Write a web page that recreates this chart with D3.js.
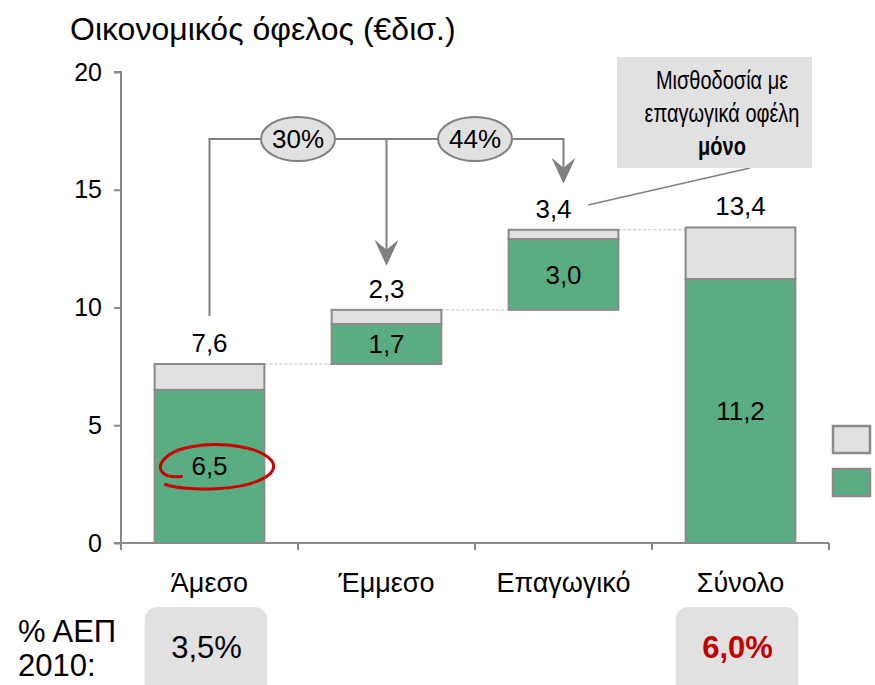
<!DOCTYPE html>
<html>
<head>
<meta charset="utf-8">
<script src="https://cdn.jsdelivr.net/npm/d3@7"></script>
<style>
  body { margin: 0; background: #fff; }
  text { font-family: "Liberation Sans", Arial, sans-serif; }
</style>
</head>
<body>
<div id="chart"></div>
<script>
const categories = ["Άμεσο", "Έμμεσο", "Επαγωγικό", "Σύνολο"];
const greenValues = [6.5, 1.7, 3.0, 11.2];
const totalValues = [7.6, 2.3, 3.4, 13.4];
const yTicks = [0, 5, 10, 15, 20];
const shareLabels = ["30%", "44%"];
const gdpLabels = ["3,5%", null, null, "6,0%"];

const width = 875;
const height = 685;
const green = "#5aad82";
const lightGray = "#e1e1e1";
const edge = "#8a8a8a";
const fmt = v => d3.format(".1f")(v).replace(".", ",");

// waterfall bases: first three stack, the last one is the total
let run = 0;
const bases = totalValues.map((v, i) => {
  if (i === totalValues.length - 1) return 0;
  const b = run;
  run += v;
  return b;
});

const svg = d3.select("#chart").append("svg")
  .attr("width", width)
  .attr("height", height);

const x = d3.scaleBand()
  .domain(categories)
  .range([121, 829])
  .paddingInner(0.38)
  .paddingOuter(0.19);

const y = d3.scaleLinear()
  .domain([0, 20])
  .range([543, 72]);

// title
svg.append("text")
  .attr("x", 70).attr("y", 40)
  .style("font-size", "32px")
  .style("fill", "#000")
  .text("Οικονομικός όφελος (€δισ.)");

// y axis
const yAxis = svg.append("g")
  .attr("transform", "translate(121,0)")
  .call(d3.axisLeft(y).tickValues(yTicks).tickSize(7).tickPadding(12));
yAxis.select(".domain").attr("stroke", edge).attr("stroke-width", 2).attr("d", `M-7,${y(20)}H0V${y(0)}`);
yAxis.selectAll(".tick line").attr("stroke", edge).attr("stroke-width", 2);
yAxis.selectAll(".tick text").style("font-size", "25px").style("fill", "#000")
  .style("font-family", "Liberation Sans, Arial, sans-serif");

// x axis
const xAxis = svg.append("g");
xAxis.append("line")
  .attr("x1", 114).attr("x2", x.range()[1])
  .attr("y1", y(0)).attr("y2", y(0))
  .attr("stroke", edge).attr("stroke-width", 2);
d3.range(categories.length + 1).forEach(i => {
  const tx = x.range()[0] + i * x.step();
  xAxis.append("line")
    .attr("x1", tx).attr("x2", tx)
    .attr("y1", y(0)).attr("y2", y(0) + 7)
    .attr("stroke", edge).attr("stroke-width", 2);
});
categories.forEach(c => {
  svg.append("text")
    .attr("x", x(c) + x.bandwidth() / 2)
    .attr("y", 592)
    .attr("text-anchor", "middle")
    .style("font-size", "27px")
    .style("fill", "#000")
    .text(c);
});

// connectors
categories.slice(0, -1).forEach((c, i) => {
  const yy = y(bases[i] + totalValues[i]);
  svg.append("line")
    .attr("x1", x(c) + x.bandwidth())
    .attr("x2", x(categories[i + 1]))
    .attr("y1", yy).attr("y2", yy)
    .attr("stroke", "#bbb").attr("stroke-width", 1)
    .attr("stroke-dasharray", "3,2");
});

// bars
const bars = svg.append("g").selectAll("g").data(categories).join("g");
bars.append("rect")
  .attr("x", c => x(c))
  .attr("width", x.bandwidth())
  .attr("y", (c, i) => y(bases[i] + totalValues[i]))
  .attr("height", (c, i) => y(bases[i] + greenValues[i]) - y(bases[i] + totalValues[i]))
  .attr("fill", lightGray)
  .attr("stroke", edge).attr("stroke-width", 2);
bars.append("rect")
  .attr("x", c => x(c))
  .attr("width", x.bandwidth())
  .attr("y", (c, i) => y(bases[i] + greenValues[i]))
  .attr("height", (c, i) => y(bases[i]) - y(bases[i] + greenValues[i]))
  .attr("fill", green)
  .attr("stroke", edge).attr("stroke-width", 2);

// labels
bars.append("text")
  .attr("x", c => x(c) + x.bandwidth() / 2)
  .attr("y", (c, i) => y(bases[i] + greenValues[i] / 2) + 9)
  .attr("text-anchor", "middle")
  .style("font-size", "26px")
  .style("fill", "#000")
  .text((c, i) => fmt(greenValues[i]));
bars.append("text")
  .attr("x", (c, i) => x(c) + x.bandwidth() / 2 + (i === 2 ? -10 : 0))
  .attr("y", (c, i) => y(bases[i] + totalValues[i]) - 12)
  .attr("text-anchor", "middle")
  .style("font-size", "26px")
  .style("fill", "#000")
  .text((c, i) => fmt(totalValues[i]));

// red loop around the direct value
const lc = [x(categories[0]) + x.bandwidth() / 2, y(greenValues[0] / 2)];
svg.append("path")
  .attr("d", `M${lc[0] - 28},${lc[1] + 10}
    C${lc[0] - 50},${lc[1] + 12} ${lc[0] - 56},${lc[1]} ${lc[0] - 40},${lc[1] - 12}
    C${lc[0] - 20},${lc[1] - 26} ${lc[0] + 45},${lc[1] - 26} ${lc[0] + 62},${lc[1] - 6}
    C${lc[0] + 72},${lc[1] + 8} ${lc[0] + 45},${lc[1] + 20} ${lc[0] + 10},${lc[1] + 22}
    C${lc[0] - 15},${lc[1] + 24} ${lc[0] - 35},${lc[1] + 21} ${lc[0] - 44},${lc[1] + 18}`)
  .attr("fill", "none")
  .attr("stroke", "#cc0000")
  .attr("stroke-width", 3)
  .attr("stroke-linecap", "round");

// share brackets
const cx = categories.map(c => x(c) + x.bandwidth() / 2);
const bracketY = 139;
const arrowColor = "#808080";
svg.append("path")
  .attr("d", `M${cx[0]},${y(bases[0] + totalValues[0]) - 48}V${bracketY}H${cx[2]}V${y(bases[2] + totalValues[2]) - 50}`)
  .attr("fill", "none").attr("stroke", arrowColor).attr("stroke-width", 2);
svg.append("path")
  .attr("d", `M${cx[1]},${bracketY}V${y(bases[1] + totalValues[1]) - 50}`)
  .attr("fill", "none").attr("stroke", arrowColor).attr("stroke-width", 2);

function arrowHead(tx, ty) {
  svg.append("path")
    .attr("d", `M${tx},${ty} L${tx - 12},${ty - 26} L${tx},${ty - 16} L${tx + 12},${ty - 26} Z`)
    .attr("fill", arrowColor);
}
arrowHead(cx[1], y(bases[1] + totalValues[1]) - 44);
arrowHead(cx[2], y(bases[2] + totalValues[2]) - 46);

[(cx[0] + cx[1]) / 2, (cx[1] + cx[2]) / 2].forEach((ex, i) => {
  svg.append("ellipse")
    .attr("cx", ex).attr("cy", bracketY)
    .attr("rx", 37).attr("ry", 22)
    .attr("fill", "#e1e1e1").attr("stroke", arrowColor).attr("stroke-width", 2);
  svg.append("text")
    .attr("x", ex).attr("y", bracketY + 9)
    .attr("text-anchor", "middle")
    .style("font-size", "26px")
    .style("fill", "#000")
    .text(shareLabels[i]);
});

// callout
svg.append("line")
  .attr("x1", 588).attr("y1", 205)
  .attr("x2", 750).attr("y2", 168)
  .attr("stroke", arrowColor).attr("stroke-width", 1.5);
svg.append("rect")
  .attr("x", 617).attr("y", 57)
  .attr("width", 195).attr("height", 111)
  .attr("fill", "#e1e1e1");
const callout = svg.append("g")
  .attr("transform", "translate(722,0) scale(0.8,1)")
  .append("text")
  .attr("text-anchor", "middle")
  .style("font-size", "25px")
  .style("fill", "#000");
callout.append("tspan").attr("x", 0).attr("y", 89).text("Μισθοδοσία με");
callout.append("tspan").attr("x", 0).attr("y", 122).text("επαγωγικά οφέλη");
callout.append("tspan").attr("x", 0).attr("y", 155).style("font-weight", "bold").text("μόνο");

// legend swatches
svg.append("rect").attr("x", 833).attr("y", 426).attr("width", 37).attr("height", 27)
  .attr("fill", lightGray).attr("stroke", edge).attr("stroke-width", 2.5);
svg.append("rect").attr("x", 833).attr("y", 469).attr("width", 37).attr("height", 27)
  .attr("fill", green).attr("stroke", edge).attr("stroke-width", 2.5);

// GDP share row
const gdp = svg.append("text").style("font-size", "31px").style("fill", "#000");
gdp.append("tspan").attr("x", 18).attr("y", 642).text("% ΑΕΠ");
gdp.append("tspan").attr("x", 18).attr("y", 676).text("2010:");
gdpLabels.forEach((g, i) => {
  if (!g) return;
  svg.append("rect")
    .attr("x", x(categories[i]) - 10).attr("y", 607)
    .attr("width", x.bandwidth() + 13).attr("height", 90)
    .attr("rx", 13)
    .attr("fill", "#e1e1e1");
  svg.append("text")
    .attr("x", cx[i] - 3).attr("y", 658)
    .attr("text-anchor", "middle")
    .style("font-size", "31px")
    .style("font-weight", i === 3 ? "bold" : "normal")
    .style("fill", i === 3 ? "#c00000" : "#000")
    .text(g);
});
</script>
</body>
</html>
